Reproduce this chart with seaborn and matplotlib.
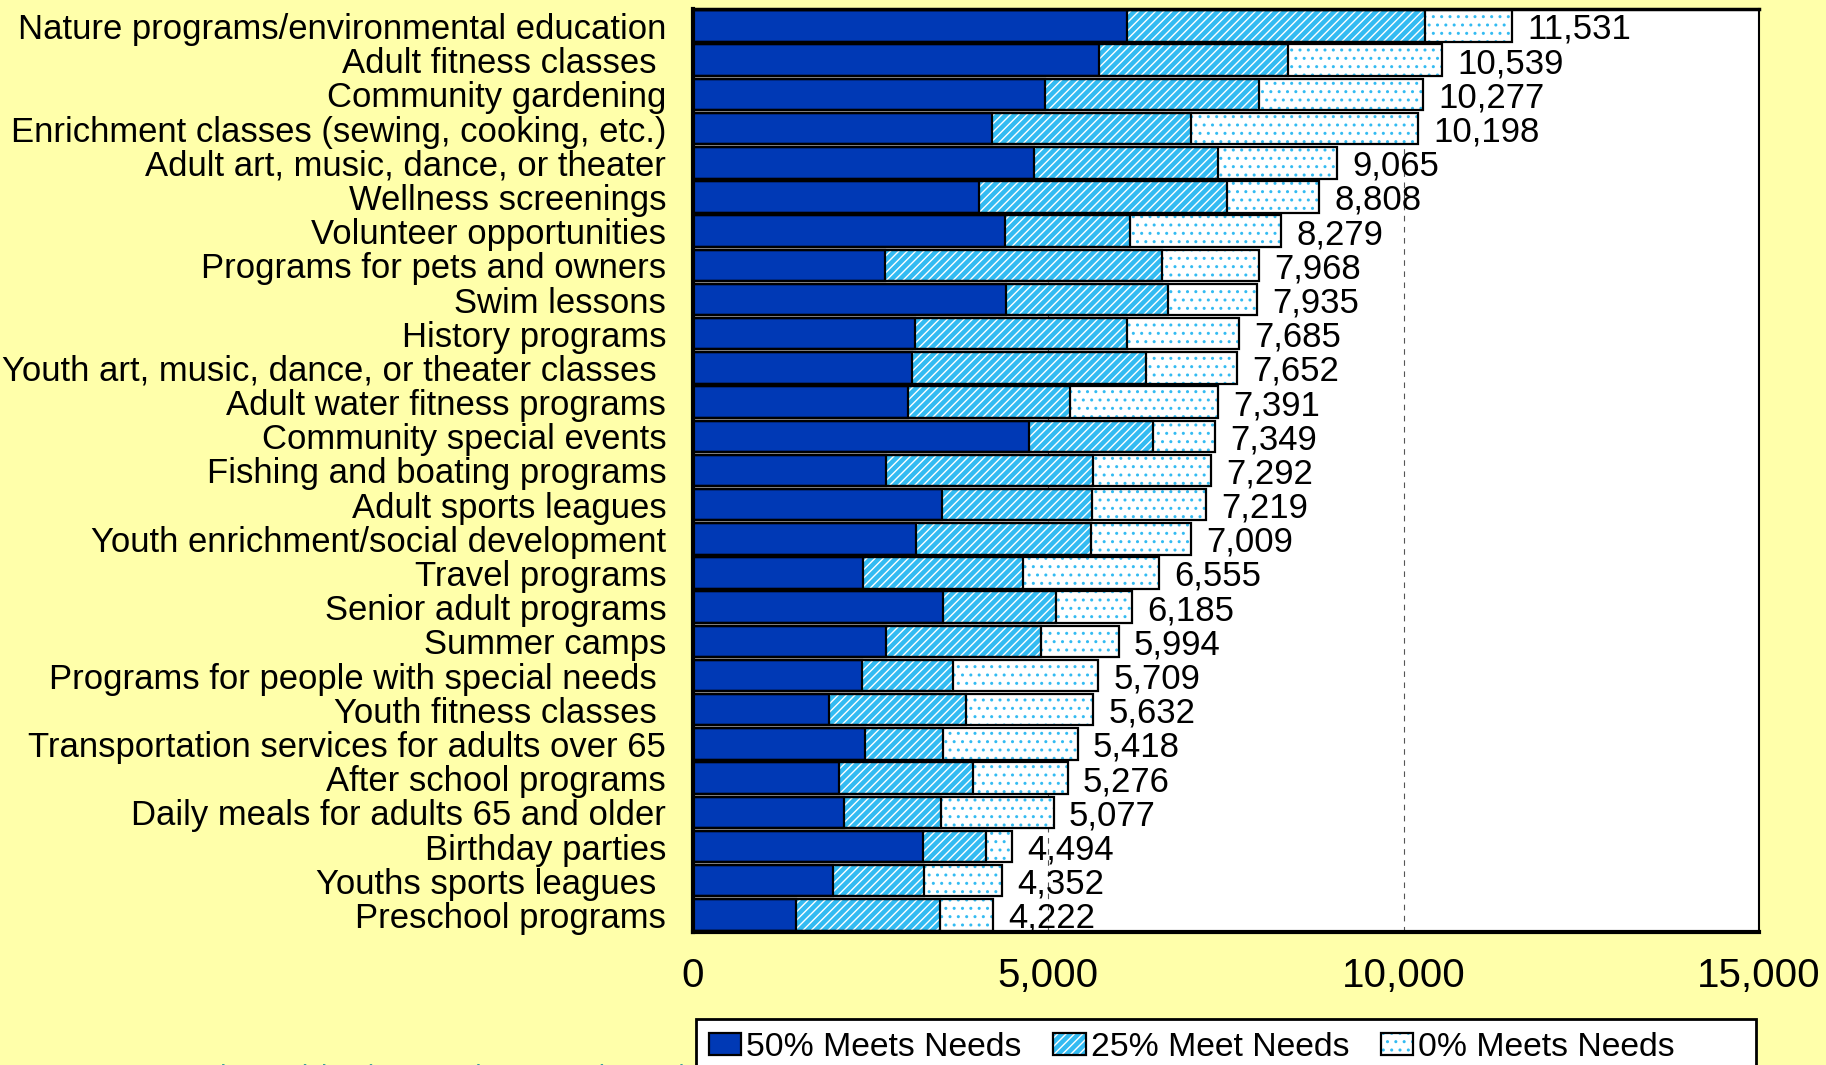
import numpy as np
import pandas as pd
import seaborn as sns
import matplotlib.pyplot as plt
from matplotlib.patches import Patch, Rectangle
from matplotlib.ticker import FuncFormatter

programs = [
    'Nature programs/environmental education',
    'Adult fitness classes ',
    'Community gardening',
    'Enrichment classes (sewing, cooking, etc.)',
    'Adult art, music, dance, or theater',
    'Wellness screenings',
    'Volunteer opportunities',
    'Programs for pets and owners',
    'Swim lessons',
    'History programs',
    'Youth art, music, dance, or theater classes ',
    'Adult water fitness programs',
    'Community special events',
    'Fishing and boating programs',
    'Adult sports leagues',
    'Youth enrichment/social development',
    'Travel programs',
    'Senior adult programs',
    'Summer camps',
    'Programs for people with special needs ',
    'Youth fitness classes ',
    'Transportation services for adults over 65',
    'After school programs',
    'Daily meals for adults 65 and older',
    'Birthday parties',
    'Youths sports leagues ',
    'Preschool programs',
]

# households whose needs are met 50%, 25%, 0%
meets50 = [6113, 5718, 4960, 4210, 4807, 4024, 4395, 2710, 4403, 3129, 3089, 3032, 4726, 2726,
           3508, 3145, 2395, 3524, 2718, 2379, 1919, 2420, 2065, 2129, 3234, 1976, 1460]
meets25 = [4186, 2662, 3008, 2807, 2580, 3493, 1759, 3895, 2283, 2976, 3282, 2275, 1750, 2911,
           2105, 2452, 2250, 1589, 2177, 1283, 1928, 1104, 1879, 1371, 887, 1274, 2016]
meets0 = [1232, 2159, 2309, 3181, 1678, 1291, 2125, 1363, 1249, 1580, 1281, 2084, 873, 1655,
          1606, 1412, 1910, 1072, 1099, 2047, 1785, 1894, 1332, 1577, 373, 1102, 746]

legend_labels = ['50% Meets Needs', '25% Meet Needs', '0% Meets Needs']
xticks = [0, 5000, 10000, 15000]

df = pd.DataFrame({'program': programs, 'm50': meets50, 'm25': meets25, 'm0': meets0})
df['upto25'] = df['m50'] + df['m25']
df['total'] = df['upto25'] + df['m0']

bg = '#FFFFAA'
dark = '#0039B5'
cyan = '#33BBF2'

plt.rcParams['font.family'] = ['Liberation Sans', 'DejaVu Sans']
plt.rcParams['hatch.linewidth'] = 1.0

fig = plt.figure(figsize=(18.26, 10.65), dpi=100, facecolor=bg)
ax = fig.add_axes([0.3793, 0.1249, 0.584, 0.8667])
ax.set_facecolor('white')

w = 0.92
common = dict(y='program', orient='h', errorbar=None, saturation=1, width=w, ax=ax)

# filled layers, biggest first so the smaller ones sit on top
sns.barplot(df, x='total', color='white', hatch='..', edgecolor=cyan, linewidth=0, **common)
total_bars = ax.containers[-1]
sns.barplot(df, x='upto25', color=cyan, hatch='////', edgecolor='white', linewidth=0, **common)
sns.barplot(df, x='m50', color=dark, linewidth=0, **common)
# black outlines
for col in ['total', 'upto25', 'm50']:
    sns.barplot(df, x=col, color='black', fill=False, linewidth=1.6, **common)

vlabels = ax.bar_label(total_bars, labels=[f'{t:,}' for t in df['total']], padding=11, fontsize=25)
for t in vlabels:
    t.xy = (t.xy[0], t.xy[1] + 0.1)

ax.set_xlim(0, 15000)
ax.set_xticks(xticks)
ax.xaxis.set_major_formatter(FuncFormatter(lambda v, p: f'{int(v):,}'))
ax.set_xlabel('')
ax.set_ylabel('')
ax.tick_params(axis='x', length=0, pad=18, labelsize=29)
ax.tick_params(axis='y', length=0, pad=19, labelsize=24.9)
ax.grid(axis='x', color='#555555', linestyle=(0, (5, 5)), linewidth=0.8)
ax.grid(axis='y', visible=False)
ax.set_axisbelow(True)
for side, lw in [('left', 3), ('bottom', 3), ('top', 2.5), ('right', 1.5)]:
    ax.spines[side].set_visible(True)
    ax.spines[side].set_linewidth(lw)
    ax.spines[side].set_color('black')

# legend box runs wider than its entries, as in the original
fig.add_artist(Rectangle((0.3812, -0.05), 0.5805, 0.0932, transform=fig.transFigure,
                         facecolor='white', edgecolor='black', linewidth=2, zorder=4))
handles = [
    (Patch(facecolor=dark, edgecolor='black', linewidth=1.6),),
    (Patch(facecolor=cyan, edgecolor='white', hatch='////', linewidth=0),
     Patch(facecolor='none', edgecolor='black', linewidth=1.6)),
    (Patch(facecolor='white', edgecolor=cyan, hatch='..', linewidth=0),
     Patch(facecolor='none', edgecolor='black', linewidth=1.6)),
]
leg = fig.legend(handles, legend_labels, loc='upper left', bbox_to_anchor=(0.3812, 0.0432),
                 ncol=3, fontsize=24.3, frameon=False, borderpad=0.38, borderaxespad=0,
                 handlelength=0.95, handleheight=0.65, handletextpad=0.15, columnspacing=0.95)
leg.set_zorder(5)

fig.text(0.051, 0.0005, 'Source: Leisure Vision (ETC Institute, March 2012)', fontsize=19,
         color='#3A9E9E', va='top', ha='left')

fig.savefig('out.png', dpi=100, facecolor=bg)
